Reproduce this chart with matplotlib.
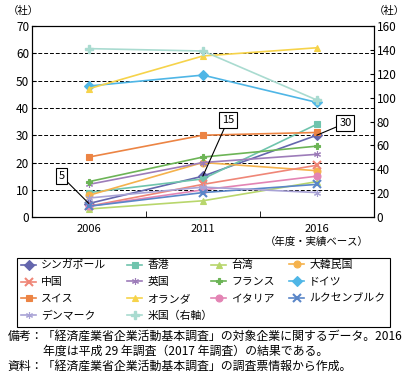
import matplotlib
matplotlib.use("Agg")
import matplotlib.pyplot as plt
from matplotlib.patches import Rectangle
import numpy as np

plt.rcParams["font.family"] = ["Noto Sans CJK JP", "DejaVu Sans"]

years = ["2006", "2011", "2016"]

# left-axis series (companies)
singapore = [5, 15, 30]
hongkong = [9, 14, 34]
taiwan = [3, 6, 13]
korea = [8, 20, 17]
china = [4, 12, 19]
uk = [12, 20, 23]
france = [13, 22, 26]
germany = [48, 52, 42]
switzerland = [22, 30, 31]
netherlands = [47, 59, 62]
italy = [4, 10, 15]
luxembourg = [4, 9, 12]
denmark = [7, 11, 9]
# right-axis series
usa = [141, 139, 98]

names = ["シンガポール", "香港", "台湾", "大韓民国", "中国", "英国", "フランス",
         "ドイツ", "スイス", "オランダ", "イタリア", "ルクセンブルク", "デンマーク"]
values = [singapore, hongkong, taiwan, korea, china, uk, france,
          germany, switzerland, netherlands, italy, luxembourg, denmark]
colors = ["#6466ad", "#6fc4ad", "#b8d66c", "#f5b24c", "#ef8677", "#9d7cb9",
          "#6cb456", "#4fb6e6", "#ec8444", "#f6d34a", "#e384b4", "#5a86c8",
          "#a9a3d6"]
markers = ["D", "s", "^", "o", "x", (6, 2, 0), "P", "D", "s", "^", "o", "x",
           (6, 2, 0)]

fig = plt.figure(figsize=(4.09, 3.81), dpi=100)
ax = fig.add_axes([0.078, 0.43, 0.836, 0.502])
ax2 = ax.twinx()

x = np.arange(len(years))
handles = {}
for name, vals, c, m in zip(names, values, colors, markers):
    h, = ax.plot(x, vals, color=c, marker=m, ms=5.5 if m == "x" else 5, lw=1.2,
                 mew=1.5 if m == "x" else 0.8, label=name)
    handles[name] = h
h, = ax2.plot(x, usa, color="#a9dbd0", marker="P", ms=6, lw=1.2, label="米国（右軸）")
handles["米国（右軸）"] = h

ax.set_xlim(-0.5, 2.5)
ax.set_ylim(0, 70)
ax2.set_ylim(0, 160)
ax.set_yticks(range(0, 71, 10))
ax2.set_yticks(range(0, 161, 20))
for y in range(10, 61, 10):
    ax.axhline(y, color="black", ls=(0, (4, 2)), lw=0.7, zorder=0)

ax.set_xticks(x)
ax.set_xticklabels(years)
ax.set_xticks([0.5, 1.5], minor=True)
ax.tick_params(axis="x", which="major", length=0, labelsize=8, pad=5)
ax.tick_params(axis="x", which="minor", length=4, direction="in")
ax.tick_params(axis="y", labelsize=8.5, direction="in", length=3, pad=2)
ax2.tick_params(axis="y", labelsize=8.5, direction="in", length=3, pad=2)
ax.text(2, -7.2, "（年度・実績ベース）", ha="center", va="top", fontsize=7.5)

fig.text(0.018, 0.97, "（社）", fontsize=7.5, va="center")
fig.text(0.915, 0.97, "（社）", fontsize=7.5, va="center")

# callout labels for Singapore
for xi, yi, tx, ty in [(0, singapore[0], -0.24, 15), (1, singapore[1], 1.22, 35.5),
                       (2, singapore[2], 2.25, 34.4)]:
    ax.annotate(str(yi), xy=(xi, yi), xytext=(tx, ty), fontsize=8,
                ha="center", va="center",
                bbox=dict(boxstyle="square,pad=0.25", fc="white", ec="black", lw=0.8),
                arrowprops=dict(arrowstyle="-", color="black", lw=0.8,
                                shrinkA=0, shrinkB=0))

# legend: one column per legend so each column sits where it does in the original
columns = [["シンガポール", "中国", "スイス", "デンマーク"],
           ["香港", "英国", "オランダ", "米国（右軸）"],
           ["台湾", "フランス", "イタリア"],
           ["大韓民国", "ドイツ", "ルクセンブルク"]]
col_x = [0.052, 0.311, 0.516, 0.707]
for cx, col in zip(col_x, columns):
    leg = fig.legend([handles[n] for n in col], col, loc="upper left",
                     bbox_to_anchor=(cx, 0.317), fontsize=7.8, frameon=False,
                     handlelength=1.4, handletextpad=0.45, labelspacing=0.62,
                     borderpad=0, borderaxespad=0)
fig.add_artist(Rectangle((0.042, 0.142), 0.912, 0.181, transform=fig.transFigure,
                         fill=False, ec="black", lw=0.8))

notes = [
    (0.018, 0.117, "備考：「経済産業省企業活動基本調査」の対象企業に関するデータ。2016"),
    (0.105, 0.078, "年度は平成 29 年調査（2017 年調査）の結果である。"),
    (0.018, 0.038, "資料：「経済産業省企業活動基本調査」の調査票情報から作成。"),
]
for nx, ny, t in notes:
    fig.text(nx, ny, t, fontsize=8.6, va="center")

fig.savefig("out.png", dpi=100)
